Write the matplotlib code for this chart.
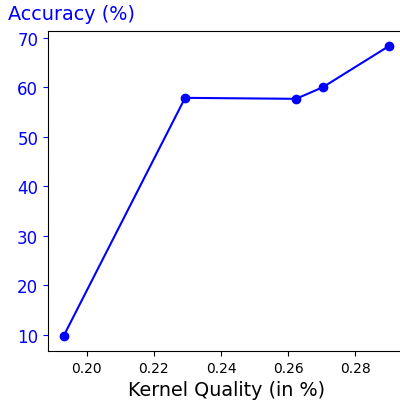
import matplotlib
matplotlib.use("Agg")
import matplotlib.pyplot as plt

kernel_quality = [0.1931, 0.2293, 0.2624, 0.2704, 0.2902]
accuracy = [9.86, 57.9, 57.7, 60.05, 68.4]
x_ticks = [0.20, 0.22, 0.24, 0.26, 0.28]
y_ticks = [10, 20, 30, 40, 50, 60, 70]

fig = plt.figure(figsize=(4.0, 4.02), dpi=100)
ax = fig.add_axes([48/400, 50/402, 357/400, 320/402])
ax.plot(kernel_quality, accuracy, color="blue", marker="o", markersize=6, linewidth=1.5)
ax.set_xticks(x_ticks)
ax.set_xticklabels([f"{v:.2f}" for v in x_ticks], fontsize=10)
ax.set_yticks(y_ticks)
ax.tick_params(axis="y", colors="blue", labelsize=12)
ax.tick_params(axis="x", labelsize=10)
ax.set_xlabel("Kernel Quality (in %)", fontsize=13.8)
ax.spines["right"].set_visible(False)
fig.text(8/400, 1 - 14/402, "Accuracy (%)", color="blue", fontsize=13.9, va="center", ha="left")
ax.set_ylim(6.77, 71.4)
ax.set_xlim(0.1884, 0.2949)
fig.savefig("out.png", dpi=100)
